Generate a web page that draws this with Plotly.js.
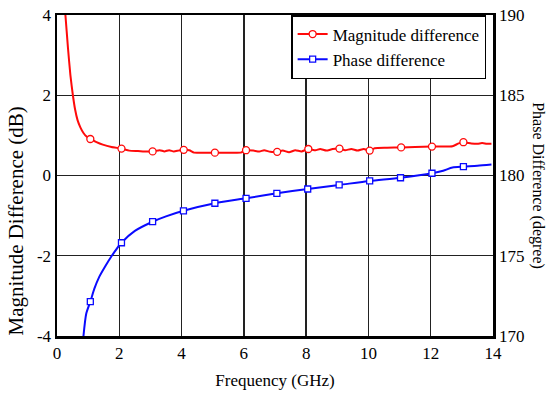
<!DOCTYPE html>
<html>
<head>
<meta charset="utf-8">
<script src="https://cdn.plot.ly/plotly-3.0.1.min.js"></script>
<style>html,body{margin:0;padding:0;background:#fff;}</style>
</head>
<body>
<div id="chart" style="width:547px;height:396px;"></div>
<script>
// Magnitude difference (dB) – dense curve
const magFreq = [0.22,0.27,0.35,0.43,0.51,0.58,0.66,0.75,0.85,0.95,1.07,1.25,1.47,1.75,2.07,2.32,2.6,2.8,3.07,3.3,3.45,3.6,3.75,3.9,4.07,4.25,4.4,4.7,5.07,5.5,5.9,6.07,6.3,6.5,6.65,6.85,7.07,7.25,7.45,7.65,7.85,8.07,8.3,8.45,8.65,8.85,9.07,9.25,9.45,9.65,9.85,10.04,10.2,10.6,11.05,11.5,12.04,12.4,12.7,12.9,13.05,13.3,13.5,13.65,13.8,13.95];
const magVal  = [4.45,4.0,3.2,2.5,2.0,1.65,1.38,1.2,1.06,0.97,0.91,0.84,0.77,0.71,0.67,0.62,0.61,0.6,0.6,0.63,0.6,0.63,0.6,0.62,0.64,0.63,0.57,0.57,0.57,0.57,0.57,0.63,0.62,0.6,0.63,0.59,0.59,0.62,0.58,0.63,0.6,0.66,0.63,0.66,0.62,0.66,0.67,0.63,0.66,0.62,0.66,0.62,0.68,0.69,0.7,0.71,0.72,0.72,0.73,0.8,0.83,0.8,0.79,0.81,0.79,0.79];
// Magnitude markers
const magMarkFreq = [1.07,2.07,3.07,4.07,5.07,6.07,7.07,8.07,9.07,10.04,11.05,12.04,13.05];
const magMarkVal  = [0.91,0.67,0.6,0.64,0.57,0.63,0.59,0.66,0.67,0.62,0.7,0.72,0.83];

// Phase difference (degree) – dense curve
const phFreq = [0.85,0.94,1.07,1.2,1.36,1.55,1.74,2.07,2.5,3.07,3.5,4.06,5.07,6.07,7.06,8.05,9.06,10.04,11.03,12.04,12.4,12.7,13.05,13.5,13.95];
const phVal  = [170,171.4,172.14,172.95,173.7,174.35,174.94,175.81,176.55,177.12,177.45,177.8,178.27,178.58,178.89,179.16,179.41,179.66,179.86,180.14,180.3,180.5,180.55,180.6,180.68];
// Phase markers
const phMarkFreq = [1.07,2.07,3.07,4.06,5.07,6.07,7.06,8.05,9.06,10.04,11.03,12.04,13.05];
const phMarkVal  = [172.14,175.81,177.12,177.8,178.27,178.58,178.89,179.16,179.41,179.66,179.86,180.14,180.55];

const xTickVals = [0,2,4,6,8,10,12,14];
const xTickText = ['0','2','4','6','8','10','12','14'];
const yTickVals = [-4,-2,0,2,4];
const yTickText = ['-4','-2','0','2','4'];
const y2TickVals = [170,175,180,185,190];
const y2TickText = ['170','175','180','185','190'];

const RED = '#ff0a0a', BLUE = '#0a0aff';
const FONT = 'Liberation Serif';

const traces = [
  {x: magFreq, y: magVal, mode: 'lines', line: {color: RED, width: 2, shape: 'spline', smoothing: 0.5}, showlegend: false, hoverinfo: 'skip'},
  {x: magMarkFreq, y: magMarkVal, mode: 'markers', marker: {symbol: 'circle', size: 7, color: '#fff', line: {color: RED, width: 1.3}}, showlegend: false},
  {x: phFreq, y: phVal, yaxis: 'y2', mode: 'lines', line: {color: BLUE, width: 2, shape: 'spline', smoothing: 0.7}, showlegend: false, hoverinfo: 'skip'},
  {x: phMarkFreq, y: phMarkVal, yaxis: 'y2', mode: 'markers', marker: {symbol: 'square', size: 6, color: '#fff', line: {color: BLUE, width: 1.3}}, showlegend: false},
  {x: [null], y: [null], name: 'Magnitude difference', mode: 'lines+markers', line: {color: RED, width: 2}, marker: {symbol: 'circle', size: 7, color: '#fff', line: {color: RED, width: 1.3}}},
  {x: [null], y: [null], yaxis: 'y2', name: 'Phase difference', mode: 'lines+markers', line: {color: BLUE, width: 2}, marker: {symbol: 'square', size: 6, color: '#fff', line: {color: BLUE, width: 1.3}}}
];

const layout = {
  width: 547, height: 396,
  margin: {l: 57, r: 54, t: 15, b: 60},
  paper_bgcolor: '#fff', plot_bgcolor: '#fff',
  font: {family: FONT, size: 17, color: '#000'},
  showlegend: true,
  legend: {x: 0.537, y: 1, xanchor: 'left', yanchor: 'top', bgcolor: '#fff', bordercolor: '#000', borderwidth: 1.5, font: {family: FONT, size: 17, color: '#000'}, tracegroupgap: 0},
  xaxis: {range: [0, 14], tickvals: xTickVals, ticktext: xTickText, showgrid: true, gridcolor: '#222', gridwidth: 1.3, showline: true, linecolor: '#000', linewidth: 2.5, mirror: true, ticks: '', zeroline: false, tickfont: {family: FONT, size: 17},
    title: {text: 'Frequency (GHz)', font: {family: FONT, size: 17}, standoff: 12}},
  yaxis: {range: [-4, 4], tickvals: yTickVals, ticktext: yTickText, showgrid: true, gridcolor: '#222', gridwidth: 1.3, showline: true, linecolor: '#000', linewidth: 2.5, ticks: '', zeroline: false, tickfont: {family: FONT, size: 17}},
  yaxis2: {range: [170, 190], overlaying: 'y', side: 'right', tickvals: y2TickVals, ticktext: y2TickText, showgrid: false, showline: true, linecolor: '#000', linewidth: 2.5, ticks: '', zeroline: false, tickfont: {family: FONT, size: 17}},
  annotations: [
    {text: 'Magnitude Difference (dB)', xref: 'paper', yref: 'paper', x: -0.093, y: 0.358, textangle: -90, showarrow: false, font: {family: FONT, size: 21, color: '#000'}, xanchor: 'center', yanchor: 'middle'},
    {text: 'Phase Difference (degree)', xref: 'paper', yref: 'paper', x: 1.103, y: 0.467, textangle: 90, showarrow: false, font: {family: FONT, size: 16, color: '#000'}, xanchor: 'center', yanchor: 'middle'}
  ]
};

Plotly.newPlot('chart', traces, layout, {displayModeBar: false, staticPlot: true});
</script>
</body>
</html>
